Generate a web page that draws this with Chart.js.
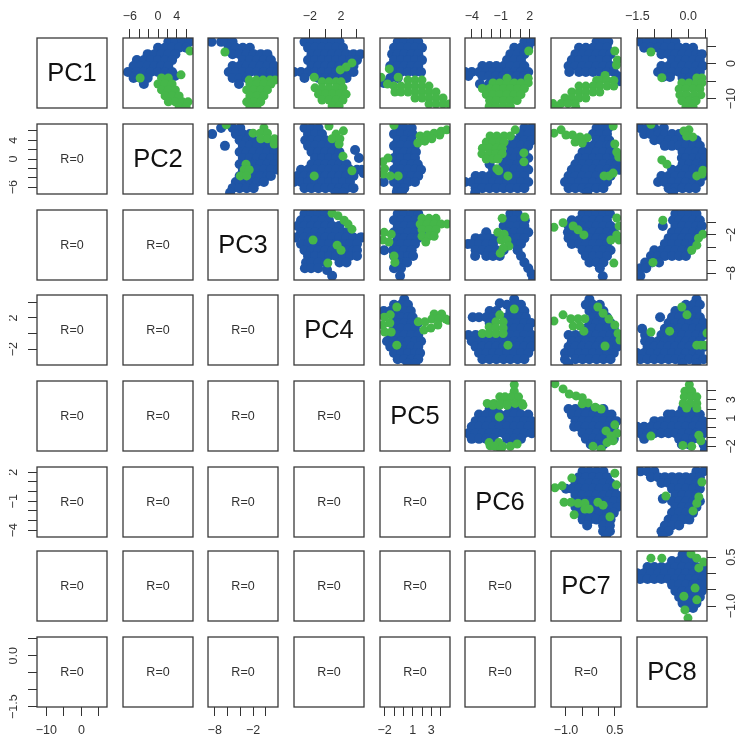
<!DOCTYPE html>
<html>
<head>
<meta charset="utf-8">
<script src="https://cdn.jsdelivr.net/npm/chart.js"></script>
<style>
  html, body { margin: 0; background: #fff; width: 735px; height: 738px; overflow: hidden; }
  canvas { position: absolute; }
</style>
</head>
<body>
<script>
const pcNames = ['PC1', 'PC2', 'PC3', 'PC4', 'PC5', 'PC6', 'PC7', 'PC8'];
const pcLimits = [[-12.65, 7.3], [-7.45, 7.45], [-9.05, 1.9], [-4.05, 4.95], [-2.5, 5], [-4.7, 2.55], [-1.46, 0.69], [-1.51, 0.55]];
const pcTicks = [
  [-10, -5, 0, 5],
  [-6, -4, -2, 0, 2, 4, 6],
  [-8, -6, -4, -2, 0],
  [-2, 0, 2, 4],
  [-2, -1, 0, 1, 2, 3, 4],
  [-4, -3, -2, -1, 0, 1, 2],
  [-1, -0.5, 0, 0.5],
  [-1.5, -1, -0.5, 0, 0.5]
];
const pcTickLabels = [
  ['−10', '', '0', ''],
  ['−6', '', '', '0', '', '4', ''],
  ['−8', '', '', '−2', ''],
  ['−2', '', '2', ''],
  ['−2', '', '', '1', '', '3', ''],
  ['−4', '', '', '−1', '', '', '2'],
  ['−1.0', '', '', '0.5'],
  ['−1.5', '', '', '0.0', '']
];

// scatter values, each row is [y, x, x, x...]
const blue12 = [[6.2,2.2,3.7,5.2,6.7],[4.5,0,1.5,3,4.5,6],[2.7,-2.2,-.7,.75,2.2,3.7],[1,-4.5,-3,-1.5,0,1.5,3],[-.7,-5.2,-3.7,-2.2,-.7,.75,2.2],[-2.4,-6.4,-4.5,-3,-1.5,0,1.5,3],[-4.1,-5.2,-3.7,-2.2],[-3.5,3.6],[-5.8,-3]];
const green12 = [[3.6,6.8],[-3.2,4.9],[-4.1,-3.8,.75,2.2],[-5.8,0,1.5,3],[-7.5,.75,2.2,3.7],[-9.2,1.5,3,4.5],[-10.9,2.2,3.7,5.2,6.4],[-12.4,4.5,6]];
const blue13 = [[6.2,-8.5,-7,-6.3,-5.2],[4.5,-5.8,-4.7,-3.6,-2.5],[2.7,-5.2,-4.1,-3,-1.9,-.8,.25],[1,-3.6,-2.5,-1.4,-.3,.8],[-.7,-5.2,-4.1,-3,-1.9,-.8,.25,1.35],[-2.4,-5.8,-4.7,-3.6,-2.5,-1.4,-.3,.8,1.8],[-4.1,-5.2,-4.1,-3,-.8,.25,1.35],[-5.8,-4.2]];
const green13 = [[3.3,-6.4],[-4.7,-2.6,-1.5,-.45,.65,1.45],[-5.8,-2.5,-1.4,-.3,.8],[-7.5,-3,-1.9,-.8,.25],[-9.2,-2.5,-1.4,-.3],[-10.9,-3,-1.9,-.8],[-12.4,-2.5,-1.4]];
const blue14 = [[6.2,-2.7,-1.8,-.9,0,.9,1.8],[4.5,-2.25,-1.35,-.45,.45,1.35,2.25],[2.7,-1.8,-.9,0,.9,1.8,2.7,3.6,4.5],[1,-2.25,-1.35,-.45,.45,1.35,2.25,3.15,4.05],[-.7,-1.8,-.9,0,.9,1.8,2.7,3.6],[-2.4,-4.05,-3.15,-2.25,-1.35,-.45,.45,1.35,2.25,3.15,3.6],[-4.1,-2.7,-.9,0,.9,1.8,2.7]];
const green14 = [[-3.9,-1.45],[.2,3.4],[-1,2.65],[-1.8,1.9],[-5.2,-.45,.45,1.35,2],[-6.9,-1.35,-.45,.45,1.35,2.25],[-8.7,-.9,0,.9,1.8,2.65],[-10.4,-.45,.45,1.35,2.25],[-12.1,.85,1.75]];
const blue15 = [[6.2,-.6,.1,.9,1.6],[4.5,-1,-.25,.5,1.25,2],[2.7,-1.2,-.6,.1,.9,1.6],[1,-1,-.25,.5,1.25,2],[-.7,-1.4,-.6,.1,.9,1.6],[-2.4,-1,-.25,.5,1.25,1.9],[-4.1,-1.4,-.6],[-5.5,-2.1]];
const green15 = [[-1.5,-1.5],[-3.9,-2.4,-.55],[-4.7,.5,1.25,2],[-5.8,-1.7],[-6.4,-1,-.25,.5,1.25,2,2.75],[-8.1,-.9,-.25,.5,1.25,2,2.75,3.5],[-9.8,1.25,2,2.75,3.5,4.25],[-11.5,2.75,3.5,4.25,4.9]];
const blue16 = [[6.2,1.45,2.2],[4.5,.4,1.1,1.85],[2.7,0,.75,1.45],[1,-.35,.4,1.1],[-.7,-2.9,-2.15,-1.45,-.7,0,.75,1.45],[-2.4,-4.7,-4,-3.25,-2.5,-1.8,-1.1,-.35,.4,1.1,1.85],[-3.5,-4.35,-2.9,-2.15,-1.45,-.7,0,.75,1.45],[-5.8,-3.15,-2.2]];
const green16 = [[3.6,1.9],[-4.2,-.35,1.85],[-5.5,-1.8,-1.1,-.35,.4,1.1,1.85],[-7.1,-2.9,-2.15,-1.45,-.7,0,.75,1.45],[-8.8,-2.5,-1.8,-1.1,-.35,.4,1.1],[-10.5,-2.15,-1.45,-.7,0,.7],[-12.2,-2.2,-1.5,-.75,0]];
const blue17 = [[6.2,-.06,.15,.3],[4.5,-.6,-.39,-.17,.04,.26],[2.7,-.71,-.49,-.28,-.06,.15,.37],[1,-.82,-.6,-.39,-.17,.04,.26],[-.7,-.92,-.71,-.49,-.28,-.06,.15,.37],[-2.4,-.9,-.6,-.39,-.17,.04,.26,.47],[-3.5,.58],[-5,.66]];
const green17 = [[3.6,.5],[1,.58],[-.4,.55],[-3.4,.2],[-4.8,-.06,.04,.26,.47],[-6.4,-.6,-.39,-.17,.04,.26,.47],[-8.1,-.82,-.6,-.39,-.17,.04],[-9.8,-1.03,-.82,-.6,-.39],[-11.4,-1.4,-1.15,-.94,-.72],[-12.4,-1.3,-.7]];
const blue18 = [[6.2,-1.41,-1.2,-1,-.79,-.58,-.38],[4.5,-1.3,-1.1,-.89,-.69,-.48,-.27,-.07,.14],[2.7,-.79,-.58,-.38,-.17,.03,.24,.4],[1,-.48,-.27,-.07,.14,.34],[-.7,-.79,-.58,-.38,-.17,.03,.24,.43],[-2.4,-.89,-.69,-.48,-.27,-.07,.14,.34],[-3.8,-.75,-.54],[-4.1,-.17,.03,.24]];
const green18 = [[3.3,-1.1],[-4,-.78],[-4.1,.25,.4],[-5.5,-.19,.02,.23,.4],[-7.2,-.27,-.07,.14,.34],[-8.9,-.25,-.05,.17,.37],[-10.6,-.19,.02,.23],[-12.3,-.07,.14]];
const blue23 = [[6.6,-7,-5.2,-4],[5.3,-8.4,-4.7,-3.6,-2.5],[4,-4.1,-3,-1.9,-.8],[2.8,-6.4,-3.6,-2.5,-1.4,-.3,.8,1.9],[1.5,-4.1,-3,-1.9,-.8,.25,1.35],[.2,-3.6,-2.5,-1.4,-.3,.8,1.9],[-1.1,-4.1,-3,-1.9,-.8,.25,1.35],[-2.3,-3.6,-2.5,-1.4,-.3,.8,1.9],[-3.6,-4.1,-3,-1.9,-.8,.25,.8],[-4.9,-4.7,-3.6,-2.5,-1.4,-.3],[-6.2,-5.2,-4.1,-3,-1.9],[-7.2,-5.6]];
const green23 = [[7.3,-6.2],[6.6,-.3],[5.5,-2,-.9,.25],[4.3,-.8,.25,1.35],[3.2,1.3],[-1.1,-3.1],[-2.3,-3.4,-2.6],[-3.6,-4,-3]];
const blue24 = [[6.6,-2.7,-1.8,-.9],[5.3,-2.25,-1.35,-.45],[4,-2.6,-1.8,-.9,0],[2.8,-2.25,-1.35,-.45,.45,1.35],[1.9,3.8],[1.5,-1.8,-.9,0,.9,1.8],[.2,-1.35,-.45,.45,1.35,4.3],[-1.1,-1.8,-.9,0,.9,1.8,2.7],[-2.3,-3.15,-2.25,-1.35,-.45,.45,1.35,2.25,3.15,4.05,4.7],[-3,4.9],[-3.6,-3.6,-2.7,-1.8,-.9,0,.9,1.8,2.7,3.6],[-4.9,-4.05,-3.15,-2.25,-1.35,-.45,.45,1.35,2.25,3.15],[-6.2,-2.7,-1.8,-.9,0,.9,1.8,2.7,3.6],[-7.2,1.35,2.25]];
const green24 = [[7,.45],[6,2.3],[5.3,1.35],[4.3,.85,1.85],[3.2,1.75],[.6,2.25],[-2.5,3.4],[-3.6,-1.45]];
const blue25 = [[6.6,-.6,.1,.9],[5.3,-1,-.25,.5,1],[4,-.6,.1,.9],[2.8,-1,-.25,.5,1.25],[1.5,-.6,.1,.9,1.35],[.2,-1,-.25,.5,1.25],[-1.1,-.6,.1,.9,1.55],[-2.3,-1,-.25,.5,1.25,1.9],[-3.6,-.6,.1,.9,1.6],[-4.9,-2.1,-1,-.25,.5,1.25],[-6.2,-.6,.1],[-7,-.7,-.15]];
const green25 = [[7.2,-1],[4.9,1.8],[5.1,2.55,3.9],[5.5,3.3],[5.9,4.05],[6.2,4.65],[3.4,1.55],[3.8,2.3],[4.3,3.05],[.2,-1.65],[-.6,-2.2],[-2.1,-2],[-3.2,-2.15],[-3.6,-1.4,-.55]];
const blue26 = [[6.6,1.45,2.2],[5.3,1.1,1.85,2.55],[4,.3,.75,1.45,2.2],[2.8,0,.4,1.1,1.85],[1.5,0,.75,1.45],[.2,-.35,.4,1.1,1.85],[-1.1,-2.15,-.7,0,.75,1.45],[-2.3,-1.8,-1.1,-.35,.4,1.1,1.85],[-3.6,-3.6,-2.9,-2.15,-1.45,-.7,0,.75,1.45],[-4.9,-4.7,-4,-3.25,-2.5,-1.8,-1.1,-.35,.4,1.1,1.85],[-6.2,-3.6,-2.9,-2.15,-1.45,-.7,0,.75,1.45],[-7.2,-3.65]];
const green26 = [[6.2,.5],[4.9,-2.1,-1.4,-.65,0],[3.6,-2.5,-1.8,-1.1,-.65],[2.3,-2.9,-2.15,-1.45,-.85],[1.3,1.4],[1.1,-2.95,-2.2,-1.5,-.85],[0,-2.5,-1.8,-1.3],[-.6,1.4],[-2.1,-1.4],[-2.5,-1.2],[-3.6,-.25]];
const blue27 = [[6.6,-.06,.15,.3],[5.3,-.17,.04,.26],[4,-.06,.15,.33],[2.8,-.39,-.17,.04,.26,.37],[1.5,-.49,-.28,-.06,.15,.37],[.2,-.6,-.39,-.17,.04,.26,.47],[-1.1,-.71,-.49,-.28,-.06,.15,.37,.56],[-2.3,-.82,-.6,-.39,-.17,.04,.26,.47,.63],[-3.6,-.92,-.71,-.49,-.28,-.06,.15,.37],[-4.9,-1.03,-.82,-.6,-.39,-.17,.04,.26],[-6.2,-.92,-.71,-.49,-.28,-.06,.15],[-7.2,-.35]];
const green27 = [[7,.45],[6.2,-1.15],[5.5,-1.37],[5.1,-1,-.8],[4.7,-.57],[4.5,-.35],[3.6,-.72],[3.4,-.5],[3.2,.5],[1.5,.56],[.4,.62],[-3,.45],[-3.6,.17,.32]];
const blue28 = [[6.6,-1.41,-1.2,-1,-.72],[5.3,-1.3,-1.1,-.89,-.69,-.48,-.27,-.07],[4,-1,-.79,-.58,-.38,-.17,.03,.24],[2.8,-.69,-.48,-.27,-.07,.14,.34],[1.5,-.17,.03,.24,.43],[.2,-.19,-.07,.14,.34,.49],[-1.1,-.17,.03,.24,.45],[-2.3,-.48,-.27,-.07,.14,.34,.5],[-3.6,-.79,-.58,-.38,-.17,.03,.24,.45],[-4.9,-.89,-.69,-.48,-.27,-.07,.14,.34],[-6.2,-.58,-.38,-.17,.03,.22],[-7.2,-.45]];
const green28 = [[7.4,-1.1],[6.2,.02],[5.95,-.13],[4.9,-.05],[4.7,.13],[-.2,-.78],[-1.1,-.63],[-2.4,.43],[-3.2,.4],[-3.6,.25]];
const blue34 = [[1.3,-2.7,-1.8,-.9,0],[.3,-3.15,-2.25,-1.35,-.45,.45],[-.6,-3.6,-2.7,-1.8,-.9,0,.9,1.75],[-1.6,-3.15,-2.25,-1.35,-.45,.45,1.35,2.25,2.9],[-2.4,-3.9,-2.7,-1.8,-.9,0,.9,1.8,2.7,3.6,4.5,4.7],[-3.4,-3.15,-2.25,-1.35,-.45,.45,1.35,2.25,3.15,4.05],[-4.4,-2.7,-1.8,-.9,0,.9,2.7,3.6,4.05],[-5.3,-2.25,-1.35,-.45,.45,1.35,2.25,3.15,4.05],[-6.3,-2.5,-1.8,-.9,0,1.8,2.7],[-7.2,-2.65,-1.85,-.95],[-7.5,.2],[-8.4,.85]];
const green34 = [[1.4,.85],[1,1.6],[.3,2.4],[-.3,2.9],[-1.1,3.4],[-2.8,-1.6],[-3.6,1.5],[-4.4,2],[-6.4,.3]];
const blue35 = [[1.3,-.6,.1,.9,1.6],[.3,-1,-.25,.5,1.25],[-.6,-.6,.1,.9,1.6],[-1.6,-1,-.25,.5,1.25,1.9],[-2.5,-.6,.1,.9,1.55],[-3.4,-1,-.25,.5,1.25],[-4.4,-2.05,-1.1,-.6,.1,.9],[-5.3,-1,-.25,.5,1.05],[-6.3,-.6,.1,.4],[-7.2,-1,-.25],[-8.4,-.35]];
const green35 = [[.6,2,2.75,3.5],[-.3,1.8,2.55,3.3,4.05,4.7],[-1.2,2,2.75,3.5],[-2.2,2,2.75,3.3],[-3.1,2.4],[-1.6,-2.05],[-1.9,-1.3],[-2.8,-2.2],[-3.1,-1.55],[-5.3,-1],[-6.3,-.9]];
const blue36 = [[1.3,0,.75],[.3,-.35,.4,1.1,1.5],[-.6,-.7,0,.75,1.45],[-1.6,-2.5,-.35,.4,1.1,1.85],[-2.5,-3.6,-2.9,-2.15,-1.45,0,.75,1.45],[-3.4,-4.4,-4,-3.25,-2.5,-1.8,.4,1.1],[-4.4,-3.6,-2.9,-2.15,-1.45,-.7,.75],[-5.3,-3.65,-2.5,-1.8,-1.1,1.1],[-6.3,1.45],[-7.2,1.85],[-8.1,2.2],[-8.9,2.35]];
const green36 = [[.6,-.85],[.8,1.5],[-1.6,-1.3],[-1.9,-.65],[-2.8,-.95,-.35],[-3.75,-.15],[-4.1,-.75],[-4.85,-1.05]];
const blue37 = [[1.3,-.49,-.28,-.06,.15,.35],[.3,-.82,-.6,-.39,-.17,.04,.26],[-.6,-.92,-.71,-.49,-.28,-.06,.15,.37],[-1.6,-.94,-.82,-.6,-.39,-.17,.04,.26,.47],[-2.5,-.92,-.71,-.49,-.28,-.06,.15],[-3.4,-.82,-.6,-.39,-.17,.04,.26],[-4.4,-.49,-.28,-.06,.15,.37],[-5.3,-.39,-.17,.04,.26],[-6.3,-.28,-.06,.15],[-7.2,.04],[-8.45,.13]];
const green37 = [[-.8,-1.37],[-.1,-1.09],[-.6,-.78,.63],[-1.2,-.63],[-2,-.45,.56],[.65,.56],[-2.8,.38,.63],[-6.4,.47]];
const blue38 = [[1.3,-.38,-.17,.03,.24],[.3,-.45,-.27,-.07,.14,.34],[-.6,-.75,-.38,-.17,.03,.24,.4],[-1.6,-.48,-.27,-.07,.14,.34],[-2.5,-.58,-.38,-.17,.03,.22],[-3.4,-.69,-.48,-.27,-.07,.14],[-4.4,-1,-.79,-.58,-.38,-.17,.03],[-5.3,-1.1,-.89,-.69,-.48,-.27,-.07],[-6.3,-1.27,-1.07,-.86],[-7.2,-1.41,-1.24],[-8.4,-1.41]];
const green38 = [[.3,-.75],[-2.5,.3],[-1.9,.43],[-3.6,.25],[-4.4,.1],[-6.3,-1.04]];
const blue45 = [[4.4,.1],[3.7,-1,-.25,.5],[2.9,-2.1,-1.4,-.6,.1,.8],[2.1,-1,-.25,.5,1],[1.35,-.6,.1,.9,1.55],[.6,-1,-.25,.5,1.25],[-.2,-1.4,-.6,.1,.9,1.6],[-1,-1.75,-1,-.25,.5,1.25,1.9],[-1.7,-1.4,-.6,.1,.9,1.6],[-2.5,-1,-.25,.5,1.25,1.8],[-3.3,-.6,.1,.9,1.6],[-3.9,.5,1.25]];
const green45 = [[3.4,-.7],[2.5,3.3,4.1],[2.4,-1.4],[2.1,-2.05],[1.85,3.05,3.8,4.55],[1.7,4.8],[1.5,1.6,2.3],[1.35,-1.45],[1.1,-2.2,3.7],[.7,2.95],[.45,2.2],[.2,-2,-1.3],[-1.5,-.7]];
const blue46 = [[4.4,.4],[3.9,-1.1],[3.7,-.35,.4,1.1],[2.9,-2.15,-1.45,0,.75,1.45],[2.1,-3.9,-3.25,-2.5,-1.8,-.35,.4,1.1,1.6],[1.35,-2.15,0,.75,1.45,2.15],[.6,-.35,.4,1.1,1.85],[-.2,-4.35,-3.6,-2.9,-2.15,-1.45,-.7,0,.75,1.45,2.2],[-1,-4,-3.25,-2.5,-1.8,-1.1,-.35,.4,1.1,1.85,2.55],[-1.7,-3.6,-2.9,-2.15,-1.45,-.7,0,.75,1.45,2.2],[-2.5,-3.25,-2.5,-1.8,-1.1,-.35,.4,1.1,1.85],[-3.3,-2.9,-2.15,-1.45,-.7,0,.75,1.45]];
const green46 = [[3.15,.4],[2.4,-1.1],[1.5,-1.5,-.75],[.85,-2.2],[.7,-1.5,-.75],[0,-2.9,-2.2,-1.5,-.75],[-1.5,-.25]];
const blue47 = [[4.4,-.28],[3.7,-.39,-.17,.04],[2.9,-.28,-.06,.15],[2.1,-.17,.04,.26],[1.35,-.28,-.06,.15,.37],[.6,-.39,-.17,.04,.26,.47],[-.2,-.92,-.71,-.49,-.28,-.06,.15,.37,.56],[-1,-.82,-.6,-.39,-.17,.04,.26,.47],[-1.7,-.92,-.71,-.49,-.28,-.06,.15,.37,.58],[-2.5,-1.03,-.82,-.6,-.39,-.17,.04,.26,.47],[-3.3,-1.03,-.71,-.49,-.28,-.06,.15,.37],[-3.9,-.93]];
const green47 = [[3.4,-.02],[2.6,.14],[2.4,-1.09],[1.9,-.85,-.63,-.42],[1.85,.32],[1.6,-1.37],[1.1,.5],[.95,-.78,-.57],[.3,-.45],[0,.6],[-.85,.66],[-1.6,.2]];
const blue48 = [[4.4,.24],[3.7,-.07,.14,.34],[2.9,-.38,-.17,.03,.24],[2.1,-.83,-.48,-.27,-.07,.14,.34],[1.35,-.58,-.38,-.17,.03,.24,.45],[.6,-1.36,-.69,-.48,-.27,-.07,.14,.34,.5],[-.2,-1.27,-.79,-.58,-.38,-.17,.03,.24,.45],[-1,-1.27,-1.1,-.89,-.69,-.48,-.27,-.07,.14,.34],[-1.7,-1.2,-1,-.79,-.58,-.38,-.17,.03,.24,.45],[-2.5,-1.51,-1.3,-1.1,-.89,-.69,-.48,-.27,-.07,.14,.34],[-3.3,-1.41,-1.2,-1,-.79,-.58,-.38,-.17,.03,.24,.45],[-3.9,-.17,.24]];
const green48 = [[3.4,-.19],[2.4,-.04],[.3,-.55],[.2,-1.1],[.05,.55],[-1.5,.25,.37,.49]];
const blue56 = [[2,-2.15,-1.45,0,.75],[1.4,-3.25,-2.5,-1.8,-1.1,-.35,.4,1.1,1.85],[.7,-3.6,-2.9,-2.15,-1.45,-.7,0,.75,1.45,2.2],[.1,-4,-3.25,-2.5,-1.8,-1.1,-.35,.4,1.1,1.85,2.55],[-.6,-4.35,-3.6,-2.9,-2.15,-1.45,-.7,0,.75,1.45,2.2],[-1.2,-4,-3.25,-2.5,-1.8,-.35,.4,1.1]];
const green56 = [[4.6,.4],[3.9,.4],[3.3,-1.1,-.55,.1,.85],[2.6,-2.4,-1.7,-1,-.25,.5,1.2],[2.4,-1.8,-1.1,-.35,1.3],[1.15,-1.15],[-1.6,-2.2,-1.2],[-1.75,.7],[-1.95,-2.1],[-2,-1.6,-.8,0],[-2.4,-1]];
const blue57 = [[2,-.92,-.71,-.5,-.3,-.06,.15],[1.4,-.82,-.6,-.39,-.17,.04,.26,.4],[.7,-.71,-.49,-.28,-.06,.15,.37,.55],[.1,-.75,-.6,-.39,-.17,.04,.26,.47],[-.6,-.49,-.28,-.06,.15,.37],[-1.2,-.39,-.17,.04,.26,.47],[-1.8,-.24,-.06,.15]];
const green57 = [[4.7,-1.34],[4.15,-1.09],[3.6,-.9],[3.4,-.69],[3.2,-.5],[2.65,-.32],[2.55,-.5],[2.2,-.1],[2,.08],[.3,.5],[-.35,.23],[-.6,.57],[-.9,.38],[-1.4,.45],[-1.6,.26],[-2,-.17],[-2.3,.08]];
const blue58 = [[2,-.17,.03],[1.4,-.6,-.48,-.27,-.07,.14,.34],[.7,-1,-.79,-.58,-.38,-.17,.03,.24,.43],[.1,-1.51,-1.3,-1.1,-.89,-.69,-.48,-.27,-.07,.14,.34,.5],[-.6,-1.41,-1.2,-1,-.79,-.58,-.38,-.17,.03,.24,.45],[-1.2,-1.3,-.27,-.07,.14,.34],[-1.8,-.19,.02,.45],[-2.4,.49]];
const green58 = [[4.6,.03],[3.9,-.1,.1],[3.3,-.12,.08,.25],[2.6,-.15,.05,.25],[2.1,-.05,.25],[-.8,.31],[-.9,-1.1],[-1.4,.37],[-1.9,-.16],[-2,.1]];
const blue67 = [[2.1,-.49,-.28,-.06,.15],[1.5,-.6,-.39,-.17,.04,.26],[.9,-.71,-.49,-.28,-.06,.15,.37],[.3,-1,-.82,-.6,-.39,-.17,.04,.26,.47],[-.35,-.71,-.49,-.28,-.06,.15,.37,.56],[-1,-.6,-.39,-.28,-.17,.04,.26,.47,.69],[-1.6,-.71,-.49,-.28,-.06,.15,.37,.58],[-2.2,-.6,-.39,-.17,.04,.26,.47],[-2.9,-.49,-.28,-.06,.15,.37],[-3.5,-.35,.14,.35],[-4.1,.14,.35],[-4.6,.23]];
const green67 = [[1.9,.5],[1.4,-.82],[.7,.55],[.6,-1.12],[.4,-1.34],[-1.1,-1.06,-.85,-.02],[-1.2,-.63,-.42],[-1.4,.14],[-1.8,-.42,-.29],[-2.4,-.75],[-2.6,.35]];
const blue68 = [[2.1,-1.41,-1.2,-1,.24,.45],[1.5,-1.1,-.89,-.69,-.48,-.27,-.07,.14,.34],[.9,-.79,-.58,-.38,-.17,.03,.24],[.3,-.48,-.27,-.07,.14,.34],[-.35,-.38,-.17,.03,.24],[-.75,-.75],[-1,-.48,-.27,-.07,.14,.34],[-1.6,-.38,-.17,.03,.24],[-2.2,-.48,-.27,-.07,.14],[-2.9,-.58,-.38,-.17,.03],[-3.5,-.69,-.48,-.27],[-4.1,-.79,-.58],[-4.6,-.75]];
const green68 = [[1,.4],[-.45,-.66],[-.55,.31],[-1.2,.25],[-2,.14]];
const blue78 = [[.57,-.17,.03],[.38,-.48,-.27,-.07,.14],[.2,-1.2,-1,-.79,-.58,-.38,-.17,.03,.24,.45],[.01,-1.51,-1.3,-1.1,-.89,-.69,-.48,-.27,-.07,.14,.34,.5],[-.17,-1.41,-1.2,-1,-.79,-.58,-.38,-.17,.03,.24,.43],[-.35,-.48,-.27,-.07,.14,.34,.49],[-.54,-.38,-.17,.03,.24,.4],[-.72,-.27,-.07,.14,.34],[-.91,-.17,.03,.24],[-1.06,-.05,.14]];
const green78 = [[.6,.08],[.47,-1.1,-.78,.25],[.35,.45],[.17,.31],[-.45,.2],[-.7,-.13],[-.81,.25],[-1.12,-.1],[-1.37,-.01]];

const upperPanels = [
  [0, 1, blue12, green12], [0, 2, blue13, green13], [0, 3, blue14, green14], [0, 4, blue15, green15],
  [0, 5, blue16, green16], [0, 6, blue17, green17], [0, 7, blue18, green18],
  [1, 2, blue23, green23], [1, 3, blue24, green24], [1, 4, blue25, green25], [1, 5, blue26, green26],
  [1, 6, blue27, green27], [1, 7, blue28, green28],
  [2, 3, blue34, green34], [2, 4, blue35, green35], [2, 5, blue36, green36], [2, 6, blue37, green37], [2, 7, blue38, green38],
  [3, 4, blue45, green45], [3, 5, blue46, green46], [3, 6, blue47, green47], [3, 7, blue48, green48],
  [4, 5, blue56, green56], [4, 6, blue57, green57], [4, 7, blue58, green58],
  [5, 6, blue67, green67], [5, 7, blue68, green68],
  [6, 7, blue78, green78]
];

const colLefts = [37, 123, 208, 294, 380, 465, 551, 637];
const rowTops = [38, 124, 210, 295, 381, 467, 551, 637];
const PANEL = 70;
const MARGIN = 30;
const AXIS = 28;
const FONT = '"Liberation Sans", Arial, sans-serif';
Chart.defaults.font.family = FONT;

function toPoints(rows) {
  const pts = [];
  rows.forEach(r => r.slice(1).forEach(x => pts.push({ x: x, y: r[0] })));
  return pts;
}

function makeScale(pc, position) {
  const horizontal = position === 'top' || position === 'bottom';
  if (!position) return { type: 'linear', display: false, min: pcLimits[pc][0], max: pcLimits[pc][1] };
  const longest = Math.max(...pcTickLabels[pc].map(l => l.length));
  const sidePad = { 2: 7, 3: 3.4, 4: 1.7 }[longest] + (position === 'right' ? 1.5 : 0);
  return {
    type: 'linear',
    position: position,
    min: pcLimits[pc][0],
    max: pcLimits[pc][1],
    border: { display: false },
    grid: { drawOnChartArea: false, drawTicks: true, tickLength: 9, tickColor: '#333', tickWidth: 1 },
    afterBuildTicks: s => { s.ticks = pcTicks[pc].map(v => ({ value: v })); },
    afterFit: s => { if (horizontal) s.height = AXIS; else s.width = AXIS; },
    ticks: {
      autoSkip: false,
      color: '#333',
      font: { size: 12.5 },
      padding: position === 'top' ? 5 : (horizontal ? 7 : sidePad),
      minRotation: horizontal ? 0 : 90,
      maxRotation: horizontal ? 0 : 90,
      crossAlign: horizontal ? 'near' : 'center',
      callback: (v, i) => pcTickLabels[pc][i]
    }
  };
}

function framePlugin(text, size) {
  return {
    id: 'frame',
    afterDraw(chart) {
      const a = chart.chartArea, ctx = chart.ctx;
      ctx.save();
      ctx.strokeStyle = '#3a3a3a';
      ctx.lineWidth = 1.3;
      ctx.strokeRect(a.left, a.top, a.right - a.left, a.bottom - a.top);
      if (text) {
        ctx.fillStyle = size > 20 ? '#111' : '#333';
        ctx.font = size + 'px ' + FONT;
        ctx.textAlign = 'center';
        ctx.textBaseline = 'middle';
        ctx.fillText(text, (a.left + a.right) / 2, (a.top + a.bottom) / 2 + 1);
      }
      ctx.restore();
    }
  };
}

function drawPanel(row, col, blue, green, text, size) {
  const canvas = document.createElement('canvas');
  canvas.width = canvas.height = PANEL + 2 * MARGIN;
  canvas.style.left = (colLefts[col] - MARGIN) + 'px';
  canvas.style.top = (rowTops[row] - MARGIN) + 'px';
  document.body.appendChild(canvas);

  // R pairs() style: outer axes alternate between the two sides
  const xPos = row === 0 && col % 2 === 1 ? 'top' : (row === 7 && col % 2 === 0 ? 'bottom' : null);
  const yPos = col === 0 && row % 2 === 1 ? 'left' : (col === 7 && row % 2 === 0 ? 'right' : null);

  const pad = side => MARGIN - (xPos === side || yPos === side ? AXIS : 0);
  new Chart(canvas, {
    type: 'scatter',
    data: {
      datasets: [
        { data: toPoints(green), backgroundColor: '#45b649', pointRadius: 4.5, borderWidth: 0, clip: 0 },
        { data: toPoints(blue), backgroundColor: '#1f55a6', pointRadius: 5, borderWidth: 0, clip: 0 }
      ]
    },
    options: {
      responsive: false,
      animation: false,
      devicePixelRatio: 1,
      events: [],
      layout: { autoPadding: false, padding: { left: pad('left'), right: pad('right'), top: pad('top'), bottom: pad('bottom') } },
      plugins: { legend: { display: false }, tooltip: { enabled: false } },
      scales: { x: makeScale(col, xPos), y: makeScale(row, yPos) }
    },
    plugins: [framePlugin(text, size)]
  });
}

for (let r = 0; r < 8; r++) {
  for (let c = 0; c < r; c++) drawPanel(r, c, [], [], 'R=0', 12.5);
  drawPanel(r, r, [], [], pcNames[r], 25.5);
}
upperPanels.forEach(p => drawPanel(p[0], p[1], p[2], p[3]));
</script>
</body>
</html>
